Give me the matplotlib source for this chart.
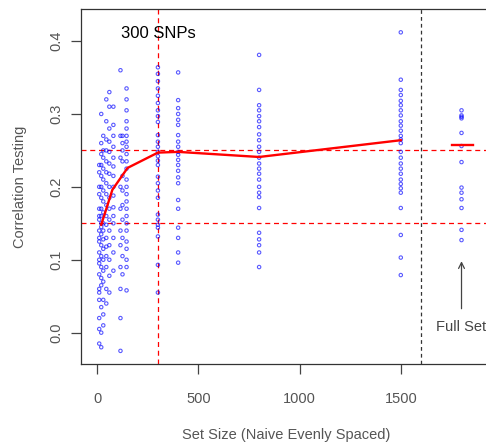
import matplotlib
matplotlib.use("Agg")
import matplotlib.pyplot as plt

plt.rcParams['font.family'] = ['Liberation Sans', 'DejaVu Sans']

# set sizes (small sizes are spread a bit so the dense cluster reads like the original)
col_x = [10, 20, 30, 45, 60, 80, 115, 125, 145, 300, 400, 800, 1500, 1800]
col_y = [
    [0.22, 0.20, 0.19, 0.17, 0.155, 0.14, 0.125, 0.11, 0.095, 0.08, 0.06, 0.045, 0.02, -0.015, 0.23, 0.16, 0.13, 0.10, 0.055, 0.005],
    [0.30, 0.26, 0.245, 0.23, 0.215, 0.20, 0.185, 0.17, 0.16, 0.15, 0.145, 0.135, 0.12, 0.105, 0.09, 0.075, 0.065, -0.02, 0.0, 0.035],
    [0.27, 0.25, 0.24, 0.225, 0.21, 0.195, 0.18, 0.165, 0.15, 0.14, 0.128, 0.115, 0.10, 0.085, 0.07, 0.045, 0.025, 0.01],
    [0.32, 0.29, 0.265, 0.25, 0.235, 0.22, 0.205, 0.19, 0.175, 0.16, 0.148, 0.13, 0.118, 0.105, 0.09, 0.06, 0.04],
    [0.33, 0.31, 0.28, 0.262, 0.248, 0.232, 0.218, 0.20, 0.185, 0.17, 0.155, 0.14, 0.12, 0.10, 0.078, 0.055],
    [0.31, 0.285, 0.27, 0.255, 0.24, 0.228, 0.215, 0.20, 0.188, 0.172, 0.16, 0.15, 0.13, 0.11, 0.085],
    [0.36, 0.27, 0.24, 0.20, 0.17, 0.14, 0.12, 0.09, 0.06, 0.02, -0.025],
    [0.27, 0.26, 0.25, 0.235, 0.215, 0.195, 0.175, 0.155, 0.13, 0.105, 0.08],
    [0.335, 0.32, 0.305, 0.29, 0.28, 0.27, 0.262, 0.255, 0.245, 0.235, 0.225, 0.21, 0.20, 0.19, 0.18, 0.17, 0.16, 0.15, 0.14, 0.125, 0.115, 0.10, 0.09, 0.058],
    [0.364, 0.355, 0.345, 0.335, 0.325, 0.315, 0.305, 0.297, 0.289, 0.271, 0.262, 0.255, 0.248, 0.242, 0.236, 0.23, 0.214, 0.205, 0.195, 0.185, 0.162, 0.155, 0.148, 0.144, 0.132, 0.093, 0.055],
    [0.357, 0.319, 0.308, 0.30, 0.292, 0.285, 0.271, 0.262, 0.255, 0.248, 0.244, 0.237, 0.23, 0.222, 0.213, 0.205, 0.182, 0.17, 0.144, 0.13, 0.11, 0.096],
    [0.381, 0.333, 0.312, 0.305, 0.297, 0.29, 0.282, 0.272, 0.264, 0.255, 0.248, 0.24, 0.232, 0.225, 0.218, 0.21, 0.2, 0.192, 0.186, 0.171, 0.137, 0.128, 0.12, 0.11, 0.09],
    [0.412, 0.347, 0.333, 0.326, 0.318, 0.312, 0.305, 0.298, 0.29, 0.284, 0.277, 0.27, 0.265, 0.26, 0.248, 0.24, 0.232, 0.225, 0.218, 0.21, 0.204, 0.198, 0.192, 0.171, 0.134, 0.103, 0.079],
    [0.305, 0.298, 0.296, 0.294, 0.274, 0.256, 0.234, 0.199, 0.192, 0.183, 0.171, 0.141, 0.127],
]

# mean correlation per set size
line_x = [20, 75, 150, 300, 400, 800, 1500]
line_y = [0.148, 0.196, 0.226, 0.247, 0.248, 0.241, 0.264]
full_mean = 0.257

fig = plt.figure(figsize=(4.86, 4.43), dpi=100)
ax = fig.add_axes([81 / 486, 79 / 443, 1 - 81 / 486 + 0.01, (364 - 9) / 443])

for x, ys in zip(col_x, col_y):
    ax.scatter([x] * len(ys), ys, s=6, facecolors='none', edgecolors='blue',
               linewidths=0.8, alpha=0.65, zorder=3)

ax.plot(line_x, line_y, color='red', lw=1.7, zorder=4)
ax.plot([1755, 1855], [full_mean, full_mean], color='red', lw=1.7, zorder=4)

ax.axhline(0.25, color='red', lw=0.9, ls=(0, (4, 3)), zorder=2)
ax.axhline(0.15, color='red', lw=0.9, ls=(0, (4, 3)), zorder=2)
ax.axvline(300, color='red', lw=0.9, ls=(0, (4, 3)), zorder=2)
ax.axvline(1600, color='#333333', lw=0.9, ls=(0, (3, 2.5)), zorder=2)

ax.text(300, 0.41, "300 SNPs", fontsize=12, ha='center', va='center', color='black')
ax.annotate("Full Set", xy=(1800, 0.098), xytext=(1800, 0.008),
            fontsize=10.5, color='#444444', ha='center', va='center',
            arrowprops=dict(arrowstyle='->', color='#444444', lw=0.9, shrinkA=6, shrinkB=0))

ax.set_xlim(-80, 1945)
ax.set_ylim(-0.043, 0.444)
ax.set_xticks([0, 500, 1000, 1500])
ax.set_yticks([0.0, 0.1, 0.2, 0.3, 0.4])
ax.set_yticklabels(["0.0", "0.1", "0.2", "0.3", "0.4"], rotation=90, va='center')
ax.tick_params(colors='#444444', labelcolor='#555555', labelsize=10.5, length=7, width=0.9, pad=6)
ax.tick_params(axis='x', pad=13)

for side in ['left', 'bottom', 'top']:
    ax.spines[side].set_color('#333333')
    ax.spines[side].set_linewidth(0.9)
ax.spines['right'].set_visible(False)

ax.set_xlabel("Set Size (Naive Evenly Spaced)", fontsize=10.5, color='#555555', labelpad=16)
ax.set_ylabel("Correlation Testing", fontsize=10.5, color='#555555', labelpad=16)

fig.savefig("out.png", dpi=100)
